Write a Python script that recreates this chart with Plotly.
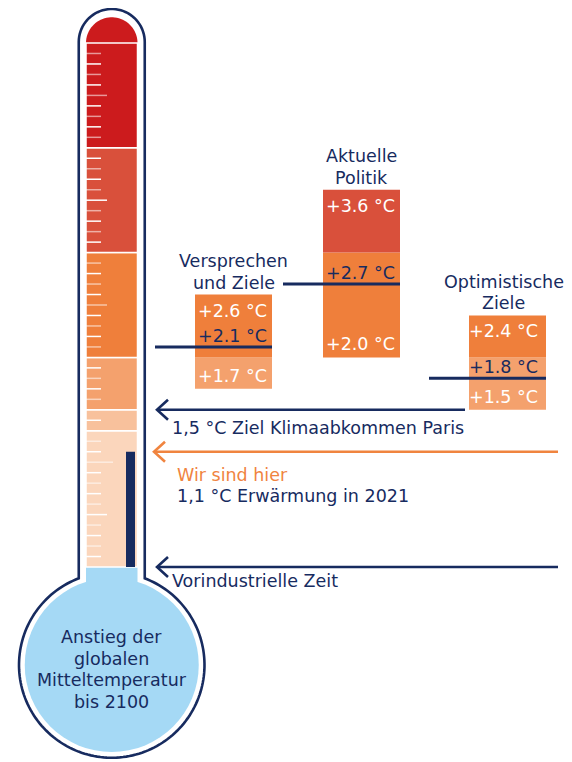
import numpy as np
import plotly.graph_objects as go

# thermometer bands (°C) and their colours
band_edges = [0, 1.3, 1.5, 2.0, 3.0, 4.0, 5.0]
band_colors = ["#fbd6bc", "#f8c19c", "#f4a16d", "#ef7f3b", "#d9503b", "#cc1b1d"]

# warming scenarios for 2100
scenarios = [["Versprechen", "und Ziele"], ["Aktuelle", "Politik"], ["Optimistische", "Ziele"]]
scen_low = [1.7, 2.0, 1.5]
scen_mid = [2.1, 2.7, 1.8]
scen_high = [2.6, 3.6, 2.4]

current_warming = 1.1   # 2021
paris_goal = 1.5
preindustrial = 0.0

axis_ticks = [4, 3, 2, 1.5]
axis_labels = ["+4 °C", "+3 °C", "+2 °C", "+1,5 °C"]

bulb_text = ["Anstieg der", "globalen", "Mitteltemperatur", "bis 2100"]

NAVY = "#172b5f"
ORANGE = "#f0843f"
BLUE = "#a5d9f5"
FONT = "DejaVu Sans"
FS = 17.5

PX = 104.8          # pixels per °C
Y0 = 567            # pixel row of 0 °C (page coords)
W, H = 572, 762
PAD = 8             # page body margin
LH = 21.5           # line height of stacked labels

def t(py):
    # pixel row -> °C on the y axis
    return (Y0 - py) / PX

tube_cx, tube_w = 111.75, 51.5
box_x = [233.5, 361.5, 507.5]
box_w = 77
box_align = ["left", "left", "right"]
title_dx = [0, 0, -4]

fig = go.Figure()

# thermometer fill
fig.add_trace(go.Bar(
    x=[tube_cx] * (len(band_edges) - 1),
    base=band_edges[:-1],
    y=np.diff(band_edges),
    width=tube_w,
    marker=dict(color=band_colors, line=dict(color="white", width=1.5)),
    hoverinfo="skip"))

# current warming bar
fig.add_trace(go.Bar(x=[130.5], base=[0], y=[current_warming], width=9,
                     marker=dict(color=NAVY, line_width=0), hoverinfo="skip"))

# scenario boxes, split at band edges
bx, bb, bh, bc = [], [], [], []
for i in range(len(scenarios)):
    for j in range(len(band_edges) - 1):
        lo = max(scen_low[i], band_edges[j])
        hi = min(scen_high[i], band_edges[j + 1])
        if hi > lo:
            bx.append(box_x[i]); bb.append(lo); bh.append(hi - lo); bc.append(band_colors[j])
fig.add_trace(go.Bar(x=bx, base=bb, y=bh, width=box_w,
                     marker=dict(color=bc, line_width=0), hoverinfo="skip"))

# ticks on the thermometer
tv = [v for v in np.round(np.arange(1, 51) * 0.1, 1) if v not in band_edges]
for k, op in enumerate([1.0, 0.55]):
    xs, ys = [], []
    for n, v in enumerate(tv):
        if n % 2 != k:
            continue
        ln = 27 if v % 1 == 0 else (21 if round(v * 10) % 5 == 0 else 15)
        xs += [86, 86 + ln, None]
        ys += [v, v, None]
    fig.add_trace(go.Scatter(x=xs, y=ys, mode="lines", hoverinfo="skip",
                             line=dict(color="rgba(255,255,255,%s)" % op, width=1.5)))

shapes = []

# rounded red cap on top of the tube
cap = "M %f,%f " % (tube_cx + tube_w / 2, band_edges[-1])
cap += " ".join("L %f,%f" % (tube_cx + tube_w / 2 * np.cos(q), band_edges[-1] + tube_w / 2 * np.sin(q) / PX)
                for q in np.linspace(0, np.pi, 40))
cap += " Z"
shapes.append(dict(type="path", path=cap, fillcolor=band_colors[-1], line_width=0, layer="below"))

# bulb fill
bulb_cy, bulb_r = 665, 87
shapes.append(dict(type="circle", x0=tube_cx - bulb_r, x1=tube_cx + bulb_r,
                   y0=t(bulb_cy + bulb_r), y1=t(bulb_cy - bulb_r),
                   fillcolor=BLUE, line_width=0, layer="below"))
shapes.append(dict(type="rect", x0=tube_cx - tube_w / 2, x1=tube_cx + tube_w / 2,
                   y0=t(600), y1=0, fillcolor=BLUE, line_width=0, layer="below"))

# outline of the thermometer (pixel coords, y downward)
ro, rb, top_c = 33, 92.75, 42
dy = np.sqrt(rb ** 2 - ro ** 2)
pts = [(tube_cx - ro, top_c), (tube_cx - ro, bulb_cy - dy)]
start = np.arctan2(-dy, -ro)
end = np.arctan2(-dy, ro)
for q in np.linspace(start, end - 2 * np.pi, 160):
    pts.append((tube_cx + rb * np.cos(q), bulb_cy + rb * np.sin(q)))
pts.append((tube_cx + ro, top_c))
for q in np.linspace(0, np.pi, 40):
    pts.append((tube_cx + ro * np.cos(q), top_c - ro * np.sin(q)))
outline = "M " + " L ".join("%f,%f" % (px, t(py)) for px, py in pts) + " Z"
shapes.append(dict(type="path", path=outline, line=dict(color=NAVY, width=2.6), layer="below"))

# scenario marker lines
for i in range(len(scenarios)):
    shapes.append(dict(type="line", x0=box_x[i] - box_w / 2 - 40, x1=box_x[i] + box_w / 2,
                       y0=scen_mid[i], y1=scen_mid[i], line=dict(color=NAVY, width=3)))

# arrows
arrows = [(paris_goal, 157, 465, NAVY), (current_warming, 154, 558, ORANGE), (preindustrial, 157, 558, NAVY)]
for yv, tip, end_x, col in arrows:
    shapes.append(dict(type="line", x0=tip, x1=end_x, y0=yv, y1=yv, line=dict(color=col, width=2.6)))
    shapes.append(dict(type="path", path="M %f,%f L %f,%f L %f,%f" % (tip + 11, yv + 10 / PX, tip, yv, tip + 11, yv - 10 / PX),
                       line=dict(color=col, width=2.6)))

ann = []
def label(x, y, text, xa="left", ys=0, col=NAVY):
    ann.append(dict(x=x, y=y, text=text, xanchor=xa, yanchor="middle", yshift=ys,
                    showarrow=False, font=dict(color=col, size=FS)))

for v, s in zip(axis_ticks, axis_labels):
    label(6, v, s, ys=-1)

for i in range(len(scenarios)):
    n = len(scenarios[i])
    for k, line in enumerate(scenarios[i]):
        label(box_x[i] + title_dx[i], scen_high[i], line, xa="center", ys=12 + (n - 1 - k) * LH)
    if box_align[i] == "left":
        lx, xa = box_x[i] - box_w / 2 + 1, "left"
    else:
        lx, xa = box_x[i] + box_w / 2 - 6, "right"
    for v, col, ys in [(scen_high[i], "white", -16), (scen_mid[i], NAVY, 11), (scen_low[i], "white", 13)]:
        label(lx, v, "+%.1f °C" % v, xa=xa, ys=ys, col=col)

label(170, paris_goal, "1,5 °C Ziel Klimaabkommen Paris", ys=-18)
label(175, current_warming, "Wir sind hier", ys=-23, col=ORANGE)
label(175, current_warming, "1,1 °C Erwärmung in 2021", ys=-44)
label(170, preindustrial, "Vorindustrielle Zeit", ys=-14)

for k, line in enumerate(bulb_text):
    label(tube_cx, t(637 + k * LH), line, xa="center")

fig.update_layout(
    width=W - PAD, height=H - PAD, margin=dict(l=0, r=0, t=0, b=0),
    barmode="overlay", showlegend=False,
    plot_bgcolor="white", paper_bgcolor="white",
    font=dict(family=FONT, color=NAVY),
    xaxis=dict(range=[PAD, W], visible=False, fixedrange=True),
    yaxis=dict(range=[t(H), t(PAD)], visible=False, fixedrange=True),
    shapes=shapes, annotations=ann)

fig.write_html("out.html", config={"displayModeBar": False})
